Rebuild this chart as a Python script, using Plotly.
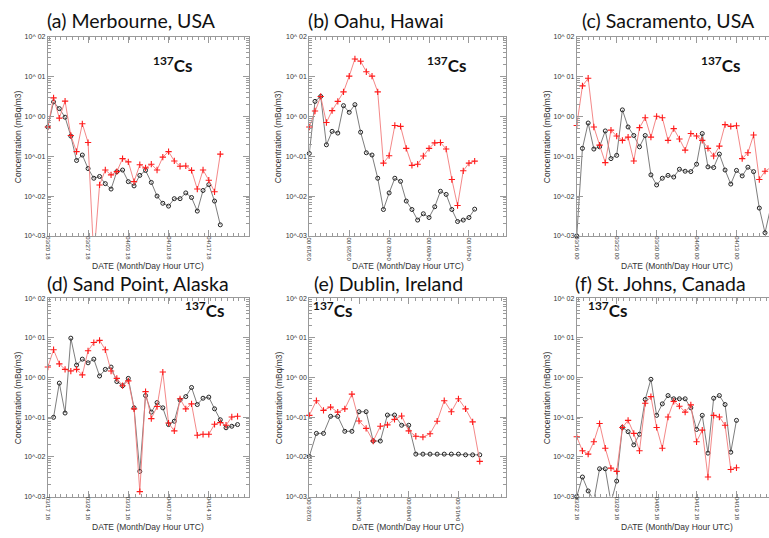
import plotly.graph_objects as go
import pandas as pd

W, H = 769, 538

# ---------------- data (mBq/m3), daily samples ----------------
titles = ["(a) Merbourne, USA", "(b) Oahu, Hawai", "(c) Sacramento, USA",
          "(d) Sand Point, Alaska", "(e) Dublin, Ireland", "(f) St. Johns, Canada"]
start_dates = ["2011-03-20 18:00", "2011-03-19 00:00", "2011-03-16 00:00",
               "2011-03-17 18:00", "2011-03-26 00:00", "2011-03-22 18:00"]

tick_labels_a = ["03/20 18", "03/27 18", "04/03 18", "04/10 18", "04/17 18"]
tick_labels_b = ["03/19 00", "03/26 00", "04/02 00", "04/09 00", "04/16 00"]
tick_labels_c = ["03/16 00", "03/23 00", "03/30 00", "04/06 00", "04/13 00"]
tick_labels_d = ["03/17 18", "03/24 18", "03/31 18", "04/07 18", "04/14 18"]
tick_labels_e = ["03/26 00", "04/02 00", "04/09 00", "04/16 00"]
tick_labels_f = ["03/22 18", "03/29 18", "04/05 18", "04/12 18", "04/19 18"]

red_a = [0.54, 2.9, 0.90, 2.4, 0.33, 0.13, 0.65, 0.22, 2.8e-4, 0.019, 0.045, 0.034, 0.041,
         0.087, 0.072, 0.023, 0.061, 0.051, 0.063, 0.045, 0.095, 0.13, 0.076, 0.056, 0.057,
         0.044, 0.015, 0.045, 0.025, 0.0128, 0.113]
blk_a = [0.54, 2.3, 1.56, 0.95, 0.32, 0.078, 0.107, 0.049, 0.028, 0.031, 0.0205, 0.015,
         0.041, 0.045, 0.023, 0.018, 0.033, 0.044, 0.022, 0.010, 0.0066, 0.0056, 0.0086,
         0.0086, 0.012, 0.0092, 0.0042, 0.0138, 0.0194, 0.0075, 0.0019]

red_b = [0.54, 1.36, 3.15, 0.70, 1.39, 2.37, 4.1, 10.2, 27.5, 24.0, 13.1, 10.2, 4.1, 0.067,
         0.103, 0.59, 0.56, 0.157, 0.059, 0.063, 0.101, 0.157, 0.216, 0.22, 0.151, 0.026,
         0.0058, 0.043, 0.067, 0.075]
blk_b = [0.117, 2.37, 3.15, 0.193, 0.42, 0.38, 1.85, 1.26, 1.96, 0.40, 0.122, 0.107, 0.028,
         0.0046, 0.012, 0.028, 0.0234, 0.0075, 0.0046, 0.0025, 0.0036, 0.0029, 0.0054,
         0.0132, 0.011, 0.0046, 0.0023, 0.0025, 0.0029, 0.0047]

red_c = [0.59, 5.8, 9.0, 0.54, 0.19, 0.069, 0.45, 0.32, 0.25, 0.30, 0.076, 0.52, 0.92, 0.30,
         1.0, 0.92, 0.25, 0.49, 0.27, 0.142, 0.37, 0.32, 0.25, 0.157, 0.101, 0.179, 0.62,
         0.56, 0.58, 0.087, 0.122, 0.34, 0.026, 0.042, 0.052]
blk_c = [0.001, 0.157, 0.68, 0.151, 0.172, 0.43, 0.087, 0.105, 1.45, 0.54, 0.33, 0.172, 0.33,
         0.034, 0.019, 0.028, 0.033, 0.030, 0.047, 0.042, 0.041, 0.063, 0.37, 0.054, 0.052,
         0.113, 0.045, 0.020, 0.044, 0.032, 0.053, 0.041, 0.0050, 0.0012, 0.0052]

red_d = [1.83, 5.0, 2.2, 1.6, 1.45, 1.6, 1.16, 4.7, 7.6, 8.6, 5.0, 1.45, 0.95, 0.62, 0.82,
         0.162, 0.00133, 0.44, 0.092, 0.185, 1.37, 0.071, 0.045, 0.29, 0.162, 0.216, 0.035,
         0.037, 0.037, 0.066, 0.073, 0.0625, 0.101, 0.105]
blk_d = [None, 0.099, 0.72, 0.127, 9.8, 2.05, 2.9, 2.34, 2.9, 1.09, 1.6, 1.83, 0.79, 0.62,
         0.95, 0.172, 0.0043, 0.35, 0.134, 0.233, 0.172, 0.065, 0.079, 0.27, 0.33, 0.56,
         0.208, 0.30, 0.32, 0.162, 0.086, 0.054, 0.059, 0.065]

red_e = [0.111, 0.26, 0.148, 0.179, 0.134, 0.162, 0.38, 0.080, 0.052, 0.025, 0.059, 0.064,
         0.088, 0.107, 0.045, 0.033, 0.0315, 0.038, 0.079, 0.26, 0.137, 0.29, 0.162, 0.076,
         0.0077]
blk_e = [0.0102, 0.039, 0.039, 0.105, 0.105, 0.044, 0.044, 0.137, 0.137, 0.025, 0.025,
         0.113, 0.113, 0.0625, 0.0625, 0.0117, 0.0117, 0.0117, 0.0117, 0.0117, 0.0117,
         0.0117, 0.0112, 0.0112, 0.0112]

red_f = [0.032, 0.0142, 0.0117, 0.024, 0.069, 0.0165, 0.0052, 0.0043, 0.055, 0.083, 0.039,
         0.0142, 0.224, 0.33, 0.055, 0.0165, 0.101, 0.25, 0.189, 0.134, 0.204, 0.024, 0.047,
         0.0031, 0.111, 0.101, 0.0625, 0.0048, 0.0053]
blk_f = [0.0010, 0.0031, 0.00138, 0.00081, 0.0050, 0.0050, 0.00071, 0.00245, 0.055, 0.043,
         0.020, 0.037, 0.28, 0.90, 0.111, 0.216, 0.35, 0.29, 0.29, 0.29, 0.172, 0.049,
         0.111, 0.0124, 0.30, 0.35, 0.208, 0.0131, 0.083]

y_tickvals = [1e-3, 1e-2, 1e-1, 1e0, 1e1, 1e2]
y_ticktext = ["10^-03", "10^-02", "10^-01", "10^ 00", "10^ 01", "10^ 02"]

# ---------------- layout geometry (pixels) ----------------
panels = [
    dict(red=red_a, blk=blk_a, ticks=tick_labels_a, box=(45, 247, 33, 235), days=35, ang=90,
         cs=(149, 61), mirror_y=True),
    dict(red=red_b, blk=blk_b, ticks=tick_labels_b, box=(307.5, 505, 33, 235), days=34.5, ang=-90,
         cs=(424, 61), mirror_y=True),
    dict(red=red_c, blk=blk_c, ticks=tick_labels_c, box=(576, 769, 33, 235), days=33.7, ang=90,
         cs=(699, 61), mirror_y=False),
    dict(red=red_d, blk=blk_d, ticks=tick_labels_d, box=(45, 247, 298, 499), days=35, ang=90,
         cs=(181, 310), mirror_y=True),
    dict(red=red_e, blk=blk_e, ticks=tick_labels_e, box=(307.5, 505, 298, 499), days=27.7, ang=-90,
         cs=(309, 310), mirror_y=True),
    dict(red=red_f, blk=blk_f, ticks=tick_labels_f, box=(576, 769, 298, 499), days=33.7, ang=90,
         cs=(585, 310), mirror_y=False),
]
title_pos = [(42, 17), (304, 17), (579, 17), (42, 283), (310, 283), (572, 283)]
ytitle_x = [15, 276, 546, 15, 277, 546]

minor_y = [m * 10.0 ** e for e in range(-3, 2) for m in range(2, 10)]
AX_COL = "#9a9a9a"
TXT_COL = "#333333"

fig = go.Figure()
annotations = []
for i, p in enumerate(panels):
    sfx = "" if i == 0 else str(i + 1)
    x0, x1, y0, y1 = p["box"]
    start = pd.Timestamp(start_dates[i])
    dates = pd.date_range(start, periods=len(p["red"]), freq="D")
    end = start + pd.Timedelta(days=p["days"])
    tickdates = [start + pd.Timedelta(days=7 * k) for k in range(len(p["ticks"]))]

    fig.add_trace(go.Scatter(
        x=dates, y=p["blk"], xaxis="x" + sfx, yaxis="y" + sfx, mode="lines+markers",
        line=dict(color="#6e6e6e", width=0.9), cliponaxis=False,
        marker=dict(symbol="circle-open", size=4, color="#222222", line=dict(width=1)),
        showlegend=False, hoverinfo="skip"))
    fig.add_trace(go.Scatter(
        x=dates, y=p["red"], xaxis="x" + sfx, yaxis="y" + sfx, mode="lines+markers",
        line=dict(color="#f27a7a", width=0.9), cliponaxis=False,
        marker=dict(symbol="cross-thin-open", size=4.5, color="#ff1a1a",
                    line=dict(width=1.1, color="#ff1a1a")),
        showlegend=False, hoverinfo="skip"))

    fig.layout["xaxis" + sfx] = dict(
        type="date", domain=[x0 / W, x1 / W], range=[start, end], anchor="y" + sfx,
        tickmode="array", tickvals=tickdates, ticktext=p["ticks"], tickangle=p["ang"],
        ticks="inside", ticklen=6, tickcolor=AX_COL, tickwidth=1,
        showline=True, linecolor=AX_COL, linewidth=1, mirror="allticks",
        showgrid=False, zeroline=False, ticklabelstandoff=-2,
        minor=dict(dtick=86400000, ticks="inside", ticklen=3, tickcolor=AX_COL, showgrid=False),
        tickfont=dict(family="Liberation Sans, Arial", size=6, color=TXT_COL),
        fixedrange=True)
    fig.layout["yaxis" + sfx] = dict(
        type="log", domain=[1 - y1 / H, 1 - y0 / H], range=[-3, 2], anchor="x" + sfx,
        tickmode="array", tickvals=y_tickvals, ticktext=y_ticktext,
        ticks="inside", ticklen=6, tickcolor=AX_COL, tickwidth=1,
        showline=True, linecolor=AX_COL, linewidth=1,
        mirror="allticks" if p["mirror_y"] else False,
        showgrid=False, zeroline=False,
        minor=dict(tickmode="array", tickvals=minor_y, ticks="inside", ticklen=3,
                   tickcolor=AX_COL, showgrid=False),
        tickfont=dict(family="Liberation Sans, Arial", size=7, color=TXT_COL),
        fixedrange=True)

    tx, ty = title_pos[i]
    annotations.append(dict(text=titles[i], x=tx / W, y=1 - ty / H, xref="paper", yref="paper",
                            xanchor="left", yanchor="middle", showarrow=False,
                            font=dict(family="Lato", size=19.5, color="#111111")))
    cx, cy = p["cs"]
    annotations.append(dict(text="<b><sup>137</sup>Cs</b>", x=cx / W, y=1 - cy / H,
                            xref="paper", yref="paper", xanchor="left", yanchor="middle",
                            showarrow=False, font=dict(family="Lato", size=17, color="#111111")))
    annotations.append(dict(text="Concentration (mBq/m3)", textangle=-90, x=ytitle_x[i] / W,
                            y=1 - (y0 + y1) / 2 / H, xref="paper", yref="paper",
                            xanchor="center", yanchor="middle", showarrow=False,
                            font=dict(family="Liberation Sans, Arial", size=8.5, color=TXT_COL)))
    dcx = (x0 + x1) / 2 if i not in (2, 5) else 677
    dcy = 265 if i < 3 else 530
    annotations.append(dict(text="DATE (Month/Day Hour UTC)", x=dcx / W, y=1 - dcy / H,
                            xref="paper", yref="paper", xanchor="center", yanchor="middle",
                            showarrow=False,
                            font=dict(family="Liberation Sans, Arial", size=8.5, color=TXT_COL)))

fig.update_layout(width=W, height=H, margin=dict(l=0, r=0, t=0, b=0),
                  paper_bgcolor="white", plot_bgcolor="white", annotations=annotations,
                  showlegend=False)
fig.write_html("out.html", config={"displayModeBar": False},
               post_script="document.body.style.margin='0';document.body.style.overflow='hidden';")
